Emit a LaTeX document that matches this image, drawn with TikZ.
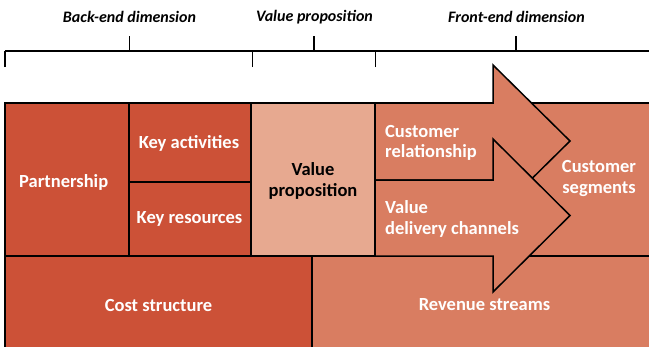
\documentclass[tikz,border=0pt]{standalone}
\usepackage{fontspec}
\setmainfont{Carlito}
\definecolor{darkred}{HTML}{CC5137}
\definecolor{midred}{HTML}{D97D61}
\definecolor{lightred}{HTML}{E7A990}
\begin{document}
\begin{tikzpicture}[x=1pt,y=-1pt,
  region/.style={draw=black,line width=1.5pt,line join=miter},
  wlabel/.style={text=white,font=\fontsize{18.5}{20.5}\selectfont\bfseries,align=center,inner sep=0pt},
  blabel/.style={text=black,font=\fontsize{18.5}{20.5}\selectfont\bfseries,align=center,inner sep=0pt},
  title/.style={text=black,font=\fontsize{16}{18}\selectfont\bfseries\itshape,inner sep=0pt},
  bracket/.style={draw=black,line width=1.5pt}]
\clip (0,0) rectangle (649,346);
\fill[white] (0,0) rectangle (649,346);
% regions
\path[region,fill=midred] (375,103) rectangle (670,256);
\path[region,fill=midred] (312,256) rectangle (670,370);
\path[region,fill=darkred] (5,256) rectangle (312,370);
\path[region,fill=darkred] (5,103) rectangle (129,256);
\path[region,fill=darkred] (129,103) rectangle (251,182);
\path[region,fill=darkred] (129,182) rectangle (251,256);
\path[region,fill=lightred] (251,103) rectangle (375,256);
% arrows
\path[region,fill=midred] (375,103) -- (493,103) -- (493,65) -- (570,141) -- (493,217) -- (493,180) -- (375,180) -- cycle;
\path[region,fill=midred] (375,180) -- (493,180) -- (493,139) -- (570,215.5) -- (493,292) -- (493,256) -- (375,256) -- cycle;
% bracket
\coordinate (bl) at (5,51);
\coordinate (br) at (670,51);
\draw[bracket] (bl) -- (br);
\coordinate (t1) at (5,67);
\coordinate (t2) at (252.7,67);
\coordinate (t3) at (375.7,67);
\coordinate (u1) at (129.5,36);
\coordinate (u2) at (314,36);
\coordinate (u3) at (516,36);
\draw[bracket] (t1) -- (5,51);
\draw[bracket] (t2) -- (252.7,51);
\draw[bracket] (t3) -- (375.7,51);
\draw[bracket] (u1) -- (129.5,51);
\draw[bracket] (u2) -- (314,51);
\draw[bracket] (u3) -- (516,51);
% titles
\node[title] (tback) at (129.5,17) {Back-end dimension};
\node[title] (tvalue) at (314.5,17) {Value proposition};
\node[title] (tfront) at (516.5,17) {Front-end dimension};
% labels
\node[wlabel,anchor=west] (partner) at (19,182) {Partnership};
\node[wlabel] (keyact) at (189,143) {Key activities};
\node[wlabel] (keyres) at (189.5,219) {Key resources};
\node[blabel] (valprop) at (313,181) {Value\\proposition};
\node[wlabel] (cost) at (158.5,305) {Cost structure};
\node[wlabel,align=left,anchor=west] (custrel) at (385,143) {Customer\\relationship};
\node[wlabel,align=left,anchor=west] (valdel) at (385,219) {Value\\delivery channels};
\node[wlabel] (custseg) at (599,178.5) {Customer\\segments};
\node[wlabel] (revenue) at (484.5,305) {Revenue streams};
\end{tikzpicture}
\end{document}
